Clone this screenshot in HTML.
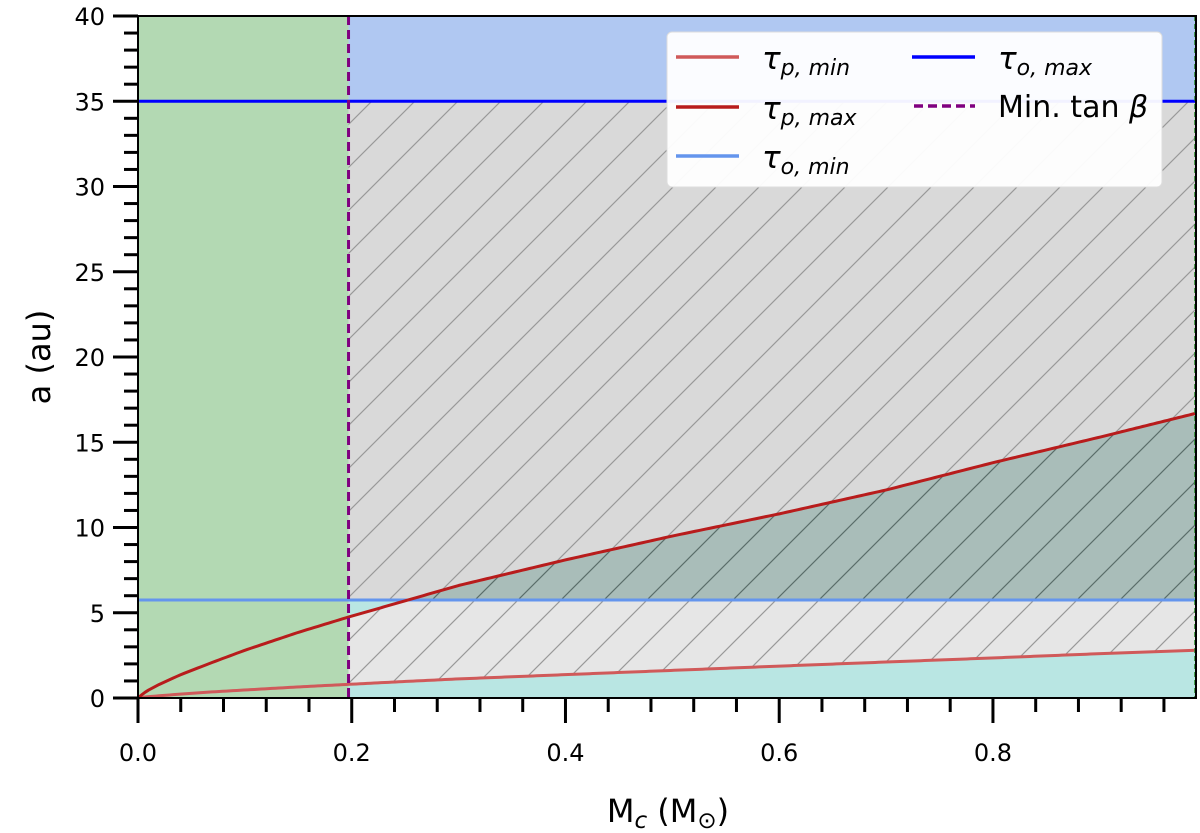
<!DOCTYPE html>
<html><head><meta charset="utf-8"><style>
body{margin:0;background:#fff;}
svg{display:block;font-family:"DejaVu Sans","Liberation Sans",sans-serif;}
</style></head><body>
<svg id="chart" width="1200" height="833">
<defs>
<pattern id="hatch" patternUnits="userSpaceOnUse" width="43" height="43">
<path d="M-5,48 L48,-5 M-5,5 L5,-5 M38,48 L48,38" stroke="#999" stroke-width="1.2"/>
</pattern>
<pattern id="hatchDark" patternUnits="userSpaceOnUse" width="43" height="43">
<path d="M-5,48 L48,-5 M-5,5 L5,-5 M38,48 L48,38" stroke="#5a6e6a" stroke-width="1.2"/>
</pattern>
<clipPath id="plotclip"><rect x="138" y="16" width="1058" height="682"/></clipPath>
</defs>
<g id="plot" clip-path="url(#plotclip)"></g>
<g id="axes"></g>
</svg>
<script>
const massSamples = [0, 0.005, 0.01, 0.02, 0.04, 0.07, 0.1, 0.15, 0.197, 0.25, 0.3, 0.4, 0.5, 0.6, 0.7, 0.8, 0.9, 0.99];
const tauPMax = [0, 0.27, 0.47, 0.80, 1.37, 2.1, 2.8, 3.85, 4.75, 5.7, 6.6, 8.1, 9.5, 10.8, 12.2, 13.8, 15.3, 16.7];
const tauPMin = [0, 0.05, 0.08, 0.13, 0.23, 0.36, 0.47, 0.65, 0.8, 0.97, 1.12, 1.37, 1.62, 1.87, 2.11, 2.35, 2.6, 2.8];
const tauOMin = 5.75;
const tauOMax = 35;
const minTanBeta = 0.197;
const xMax = 0.99;
const xTicks = [0, 0.2, 0.4, 0.6, 0.8];
const xTickLabels = ["0.0", "0.2", "0.4", "0.6", "0.8"];
const yTicks = [0, 5, 10, 15, 20, 25, 30, 35, 40];

const X0=138, X1=1196, Y0=698, Y1=16;
const xs = v => X0 + v/xMax*(X1-X0);
const ys = v => Y0 - v/40*(Y0-Y1);
const NS="http://www.w3.org/2000/svg";
const plot=document.getElementById('plot'), axes=document.getElementById('axes');
function mk(tag, attrs, parent){const e=document.createElementNS(NS,tag);for(const k in attrs)e.setAttribute(k,attrs[k]);parent.appendChild(e);return e;}
function interp(arr, m){for(let i=0;i<massSamples.length-1;i++){if(m<=massSamples[i+1]){const t=(m-massSamples[i])/(massSamples[i+1]-massSamples[i]);return arr[i]+t*(arr[i+1]-arr[i]);}}return arr[arr.length-1];}
function grid(a,b){const out=[];const n=300;for(let i=0;i<=n;i++)out.push(a+(b-a)*i/n);return out;}
function poly(lowF, highF, a, b, fill, name){
  const g=grid(a,b);let d='';
  g.forEach((m,i)=>{d+=(i?'L':'M')+xs(m).toFixed(2)+','+ys(highF(m)).toFixed(2);});
  for(let i=g.length-1;i>=0;i--)d+='L'+xs(g[i]).toFixed(2)+','+ys(lowF(g[i])).toFixed(2);
  const p=mk('path',{d:d+'Z',fill:fill},plot);
  
  
  return p;
}
const pmax=m=>interp(tauPMax,m), pmin=m=>interp(tauPMin,m);
let r=mk('rect',{x:xs(0),y:Y1,width:xs(minTanBeta)-xs(0),height:Y0-Y1,fill:'#b3d9b3'},plot);


r=mk('rect',{x:xs(minTanBeta),y:Y1,width:X1-xs(minTanBeta),height:ys(tauOMax)-Y1,fill:'#b0c8f2'},plot);


const a=minTanBeta,b=xMax;
poly(m=>Math.max(pmax(m),tauOMin),()=>tauOMax,a,b,'#d9d9d9','gray-region');
poly(m=>Math.max(pmax(m),tauOMin),()=>tauOMax,a,b,'url(#hatch)','gray-hatch');
poly(()=>tauOMin,m=>Math.max(pmax(m),tauOMin),a,b,'#a9bdb9','dark-region');
poly(()=>tauOMin,m=>Math.max(pmax(m),tauOMin),a,b,'url(#hatchDark)','dark-hatch');
poly(pmax,m=>Math.max(pmax(m),tauOMin),a,b,'#b9e6e3','cyan-gap-region');
poly(pmin,m=>Math.min(pmax(m),tauOMin),a,b,'#e6e6e6','light-region');
poly(pmin,m=>Math.min(pmax(m),tauOMin),a,b,'url(#hatch)','light-hatch');
poly(()=>0,pmin,a,b,'#b9e6e3','cyan-region');
function hline(v,color,name){const l=mk('line',{x1:X0,x2:X1,y1:ys(v),y2:ys(v),stroke:color,'stroke-width':3},plot);}
hline(tauOMin,'#6495ed','tau-o-min-line');
hline(tauOMax,'#0000ff','tau-o-max-line');
function curve(arr,color,name){const g=grid(0,xMax);let d='';g.forEach((m,i)=>{d+=(i?'L':'M')+xs(m).toFixed(2)+','+ys(interp(arr,m)).toFixed(2);});const p=mk('path',{d:d,fill:'none',stroke:color,'stroke-width':3,'stroke-linejoin':'round'},plot);}
curve(tauPMin,'#d05a5a','tau-p-min-curve');
curve(tauPMax,'#b81c1c','tau-p-max-curve');
let v=mk('line',{x1:xs(minTanBeta),x2:xs(minTanBeta),y1:Y1,y2:Y0,stroke:'#800080','stroke-width':3,'stroke-dasharray':'9,5'},plot);


v=mk('line',{x1:X1-1,x2:X1-1,y1:Y1,y2:Y0,stroke:'#228b22','stroke-width':1.5,'stroke-dasharray':'5,3'},plot);


let f=mk('rect',{x:X0,y:Y1,width:X1-X0,height:Y0-Y1,fill:'none',stroke:'#000','stroke-width':2},axes);


for(let m=0;m<=xMax+1e-9;m+=0.04){const major=Math.abs(m/0.2-Math.round(m/0.2))<1e-6;const t=mk('line',{x1:xs(m),x2:xs(m),y1:Y0,y2:Y0+(major?25:14),stroke:'#000','stroke-width':3},axes);}
xTicks.forEach((m,i)=>{const t=mk('text',{x:xs(m),y:Y0+63,'text-anchor':'middle','font-size':24},axes);t.textContent=xTickLabels[i];});
for(let k=0;k<=40;k++){const major=k%5===0;const t=mk('line',{x1:X0,x2:X0-(major?25:14),y1:ys(k),y2:ys(k),stroke:'#000','stroke-width':3},axes);}
yTicks.forEach(k=>{const t=mk('text',{x:X0-33,y:ys(k)+9,'text-anchor':'end','font-size':24},axes);t.textContent=String(k);});
</script>
<svg style="position:absolute;left:0;top:0" width="1200" height="833">
<text x="668" y="822" text-anchor="middle" font-size="32" font-family="DejaVu Sans,sans-serif">M<tspan font-style="italic" font-size="23" dy="6">c</tspan><tspan dy="-6"> (M</tspan><tspan font-size="23" dy="6">⊙</tspan><tspan dy="-6">)</tspan></text>
<text transform="translate(50,357) rotate(-90)" text-anchor="middle" font-size="32" font-family="DejaVu Sans,sans-serif">a (au)</text>
<g font-family="DejaVu Sans,sans-serif">
<rect x="667" y="32" width="495" height="155" rx="5" fill="#fff" fill-opacity="0.95" stroke="#ddd"/>
<line x1="676" x2="739" y1="57" y2="57" stroke="#d05a5a" stroke-width="3.5"/>
<text x="762" y="69" font-size="31" font-style="italic">τ<tspan font-size="22" dy="6">p, min</tspan></text>
<line x1="676" x2="739" y1="107" y2="107" stroke="#b81c1c" stroke-width="3.5"/>
<text x="762" y="119" font-size="31" font-style="italic">τ<tspan font-size="22" dy="6">p, max</tspan></text>
<line x1="676" x2="739" y1="156" y2="156" stroke="#6495ed" stroke-width="3.5"/>
<text x="762" y="168" font-size="31" font-style="italic">τ<tspan font-size="22" dy="6">o, min</tspan></text>
<line x1="912" x2="975" y1="57" y2="57" stroke="#0000ff" stroke-width="3.5"/>
<text x="998" y="69" font-size="31" font-style="italic">τ<tspan font-size="22" dy="6">o, max</tspan></text>
<line x1="914" x2="975" y1="106" y2="106" stroke="#800080" stroke-width="3.5" stroke-dasharray="9,5"/>
<text x="998" y="117" font-size="30">Min. tan <tspan font-style="italic">β</tspan></text>
</g>
</svg>
</body></html>
